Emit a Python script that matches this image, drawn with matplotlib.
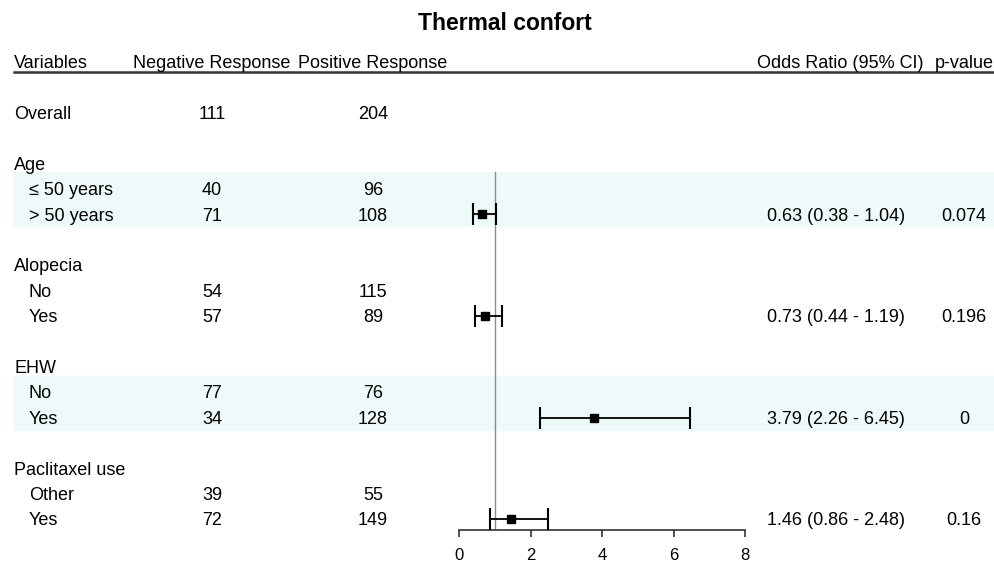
import matplotlib.pyplot as plt

plt.rcParams['font.family'] = ['Liberation Sans', 'DejaVu Sans']

# table data
groups = ['Age', 'Alopecia', 'EHW', 'Paclitaxel use']
levels = [['≤ 50 years', '> 50 years'], ['No', 'Yes'], ['No', 'Yes'], ['Other', 'Yes']]
neg_resp = [[40, 71], [54, 57], [77, 34], [39, 72]]
pos_resp = [[96, 108], [115, 89], [76, 128], [55, 149]]
overall_neg = 111
overall_pos = 204

odds_ratio = [0.63, 0.73, 3.79, 1.46]
ci_low = [0.38, 0.44, 2.26, 0.86]
ci_high = [1.04, 1.19, 6.45, 2.48]
p_values = ['0.074', '0.196', '0', '0.16']
shaded = [True, False, True, False]

W, H = 994, 566
ROW = 25.4
Y0 = 62  # pixel row of the header
TOFF = 0.07  # small nudge so text sits like the original


def r_of(py):
    return (py - Y0) / ROW


fig = plt.figure(figsize=(W / 100, H / 100), dpi=100)

# text layer: x in pixels, y in row units
tx = fig.add_axes([0, 0, 1, 1])
tx.set_xlim(0, W)
tx.set_ylim(r_of(H), r_of(0))
tx.axis('off')

fs = 13.0
x_var, x_sub, x_neg, x_pos, x_or, x_p = 14, 29, 212, 373, 836, 964


def put(x, y, s, ha='center', **kw):
    tx.text(x, y + TOFF, s, ha=ha, va='center', fontsize=kw.pop('fontsize', fs), **kw)


put(505, r_of(22), 'Thermal confort', fontsize=16.5, fontweight='bold')
put(x_var, 0, 'Variables', ha='left')
put(x_neg, 0, 'Negative Response')
put(x_pos, 0, 'Positive Response')
put(840, 0, 'Odds Ratio (95% CI)')
put(x_p, 0, 'p-value')
tx.plot([14, W], [r_of(72), r_of(72)], color='#333333', lw=1.8)

put(x_var, 2, 'Overall', ha='left')
put(x_neg, 2, str(overall_neg))
put(x_pos, 2, str(overall_pos))

point_rows = []
for i, g in enumerate(groups):
    r = 4 + 4 * i
    put(x_var, r, g, ha='left')
    if shaded[i]:
        tx.axhspan(r + 0.35, r + 2.47, xmin=14 / W, xmax=1, color='#eef9fa', zorder=0)
    for j, lev in enumerate(levels[i]):
        rr = r + 1 + j
        put(x_sub, rr, lev, ha='left')
        put(x_neg, rr, str(neg_resp[i][j]))
        put(x_pos, rr, str(pos_resp[i][j]))
    rr = r + 2
    point_rows.append(rr)
    put(x_or, rr, f'{odds_ratio[i]:.2f} ({ci_low[i]:.2f} - {ci_high[i]:.2f})')
    put(x_p, rr, p_values[i])

# forest layer
ax_bottom = 530
fx = fig.add_axes([459 / W, (H - ax_bottom) / H, (745 - 459) / W, ax_bottom / H])
fx.set_xlim(0, 8)
fx.set_ylim(r_of(ax_bottom), r_of(0))
fx.patch.set_alpha(0)
for s in ['top', 'right', 'left']:
    fx.spines[s].set_visible(False)
fx.spines['bottom'].set_color('#333333')
fx.spines['bottom'].set_linewidth(1.2)
fx.set_yticks([])
fx.set_xticks([0, 2, 4, 6, 8])
fx.tick_params(axis='x', length=5, width=1.2, color='#333333', labelsize=12, pad=8)

fx.plot([1, 1], [r_of(172), r_of(ax_bottom)], color='#8c8c8c', lw=1, zorder=1)
xerr = [[o - l for o, l in zip(odds_ratio, ci_low)], [h - o for o, h in zip(odds_ratio, ci_high)]]
fx.errorbar(odds_ratio, point_rows, xerr=xerr, fmt='s', color='black', ms=6,
            elinewidth=1.3, capsize=8, capthick=1.5, zorder=3)

fig.savefig('out.png', dpi=100)
